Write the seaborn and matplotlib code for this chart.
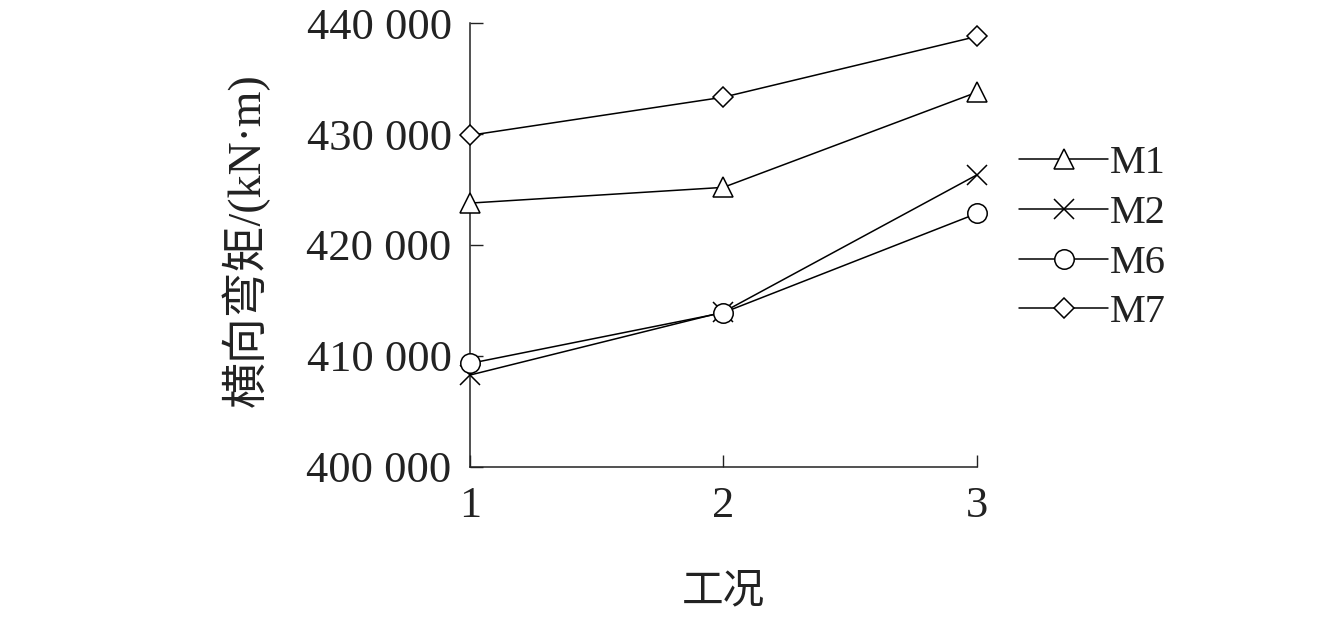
import matplotlib
matplotlib.use("Agg")
import matplotlib.pyplot as plt
import seaborn as sns
from matplotlib.ticker import FuncFormatter

# datos
casos = [1, 2, 3]
m1 = [423770, 425190, 433770]
m2 = [408260, 413950, 426320]
m6 = [409310, 413890, 422840]
m7 = [429880, 433320, 438800]
series = ["M1", "M2", "M6", "M7"]
marcadores = {"M1": ("^", 15), "M2": ("x", 14), "M6": ("o", 14), "M7": ("D", 10)}
valores = {"M1": m1, "M2": m2, "M6": m6, "M7": m7}

sns.set_style("white")
plt.rcParams["font.family"] = ["Liberation Serif", "Noto Sans CJK SC"]

fig = plt.figure(figsize=(13.42, 6.42), dpi=100)
ax = fig.add_axes([0.350, 0.273, 0.378, 0.691])

for s in series:
    m, ms = marcadores[s]
    sns.lineplot(x=casos, y=valores[s], ax=ax, color="black", linewidth=1.1,
                 marker=m, markersize=ms, markerfacecolor="white",
                 markeredgecolor="black", markeredgewidth=1.1, label=s,
                 clip_on=False, zorder=3)

ax.set_xlim(1, 3)
ax.set_ylim(400000, 440000)
ax.set_xticks(casos)
ax.set_yticks([400000, 410000, 420000, 430000, 440000])
ax.yaxis.set_major_formatter(FuncFormatter(lambda v, p: f"{int(v):,}".replace(",", " ")))
ax.tick_params(left=True, bottom=True, direction="in", length=9, width=1,
               labelsize=32, colors="#222222")
ax.tick_params(axis="y", pad=13)
ax.tick_params(axis="x", pad=14)
sns.despine(ax=ax)
for sp in ["left", "bottom"]:
    ax.spines[sp].set_linewidth(1.1)
    ax.spines[sp].set_color("#222222")

ax.set_ylabel("横向弯矩/(kN·m)", fontsize=33, color="#222222")
ax.yaxis.set_label_coords(-0.395, 0.51)
ax.set_xlabel("工况", fontsize=30, color="#222222")
ax.xaxis.set_label_coords(0.5, -0.24)

leg = ax.legend(loc="center left", bbox_to_anchor=(1.044, 0.515), frameon=False,
                fontsize=29, handlelength=2.2, handletextpad=0.05,
                labelspacing=0.31, borderpad=0)
for t in leg.get_texts():
    t.set_color("#222222")

fig.savefig("out.png", dpi=100)
